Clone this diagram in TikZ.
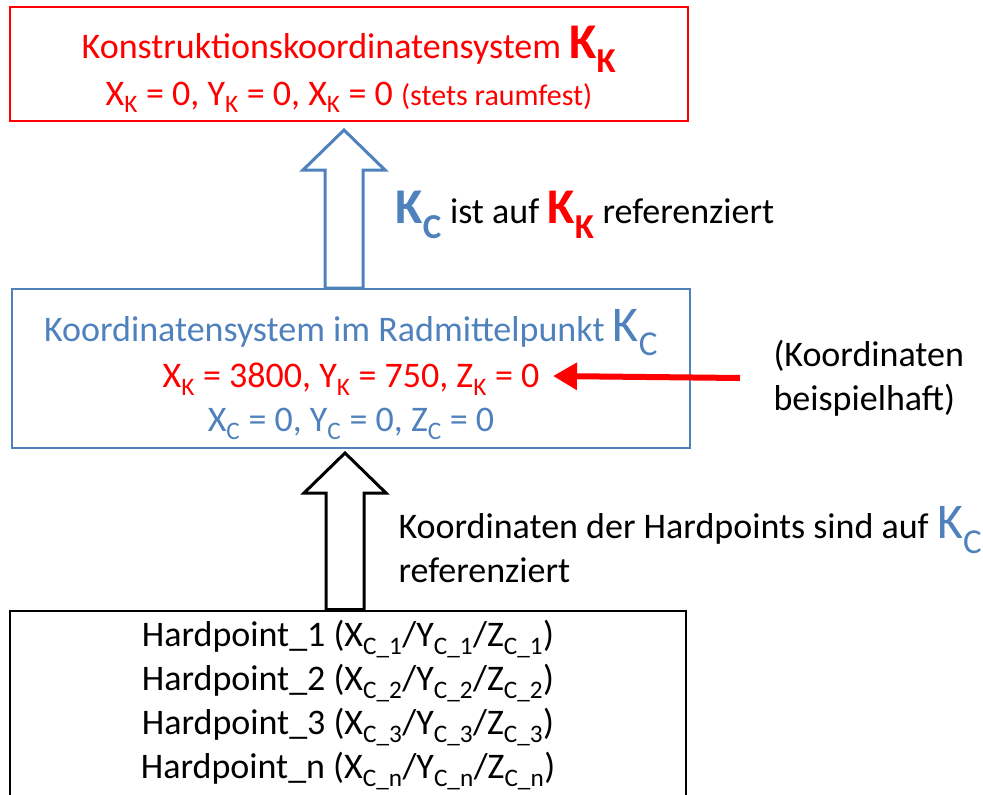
\documentclass[tikz,border=0pt]{standalone}
\usepackage{fontspec}
\setmainfont{Carlito}
\usepackage{xcolor}
\usetikzlibrary{arrows.meta,positioning,calc}

\definecolor{kred}{RGB}{255,0,0}
\definecolor{kblue}{RGB}{79,129,189}

% big system letters K with index
\newcommand{\Kbig}[1]{{\fontsize{50}{44}\selectfont K\textsubscript{#1}}}
\newcommand{\Kbold}[1]{{\fontsize{50}{44}\selectfont\bfseries K\textsubscript{#1}}}

% hollow block arrow pointing up from #2 to #3
\newcommand{\hollowup}[4]{%
  \draw[hollow, draw=#1] let \p1=(#2), \p2=(#3) in
    (\x1-19pt,\y1) -- (\x1-19pt,\y2-#4-40pt) -- (\x1-41pt,\y2-#4-40pt) -- (\x1,\y2-#4)
    -- (\x1+41pt,\y2-#4-40pt) -- (\x1+19pt,\y2-#4-40pt) -- (\x1+19pt,\y1) -- cycle;}

\begin{document}
\begin{tikzpicture}[
  x=1pt, y=-1pt,
  font=\fontsize{36}{44}\selectfont,
  sysbox/.style={draw,line width=2pt,align=center,minimum width=678pt},
  hollow/.style={line width=3pt,fill=white,line join=miter},
  redarr/.style={draw=kred,line width=6pt,-{Triangle[length=24pt,width=26pt]}},
  lab/.style={anchor=west,align=left}
]
  \useasboundingbox (0,0) rectangle (983,795);

  \node[sysbox, draw=kred, text=kred, minimum height=114pt, text height=90pt] (kk) at (349,64)
    {Konstruktionskoordinatensystem \Kbold{K}\\[3pt]
     X\textsubscript{K} = 0, Y\textsubscript{K} = 0, X\textsubscript{K} = 0 {\fontsize{30}{36}\selectfont(stets raumfest)}};

  \node[sysbox, draw=kblue, text=kblue, minimum height=159pt, text height=134pt] (kc) at (351,368.5)
    {Koordinatensystem im Radmittelpunkt \Kbig{C}\\[2pt]
     {\color{kred}X\textsubscript{K} = 3800, Y\textsubscript{K} = 750, Z\textsubscript{K} = 0}\\
     X\textsubscript{C} = 0, Y\textsubscript{C} = 0, Z\textsubscript{C} = 0};

  \node[sysbox, draw=black, minimum width=676pt, minimum height=189pt] (hp) at (348,705)
    {Hardpoint\_1 (X\textsubscript{C\_1}/Y\textsubscript{C\_1}/Z\textsubscript{C\_1})\\
     Hardpoint\_2 (X\textsubscript{C\_2}/Y\textsubscript{C\_2}/Z\textsubscript{C\_2})\\
     Hardpoint\_3 (X\textsubscript{C\_3}/Y\textsubscript{C\_3}/Z\textsubscript{C\_3})\\
     Hardpoint\_n (X\textsubscript{C\_n}/Y\textsubscript{C\_n}/Z\textsubscript{C\_n})};

  \hollowup{kblue}{[xshift=-7pt]kc.north}{kk.south}{8pt}
  \hollowup{black}{[xshift=-3pt]hp.north}{kc.south}{4pt}

  \node[lab] (reflab) at (392,215)
    {{\color{kblue}\Kbold{C}} ist auf {\color{kred}\Kbold{K}} referenziert};
  \node[lab] (hplab) at (395,545)
    {Koordinaten der Hardpoints sind auf {\color{kblue}\Kbig{C}}\\referenziert};
  \node[lab] (note) at (770,378) {(Koordinaten\\beispielhaft)};

  \coordinate (ex) at (553,376);
  \draw[redarr] ([xshift=-30pt]note.west) -- (ex);
\end{tikzpicture}
\end{document}
